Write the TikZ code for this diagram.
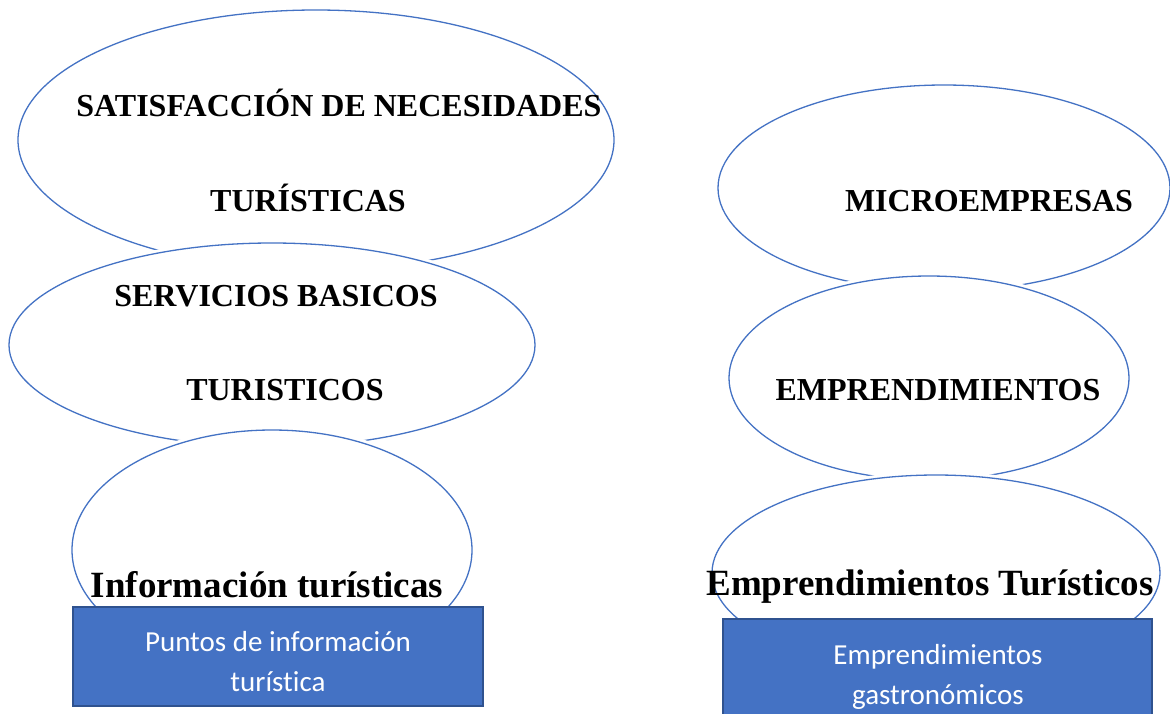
\documentclass[tikz,border=0pt]{standalone}
\usepackage{fontspec}
\setmainfont{Liberation Serif}
\newfontfamily\boxfont[Ligatures=NoCommon]{Carlito}
\usetikzlibrary{shapes.geometric}
\definecolor{accent}{HTML}{4472C4}
\definecolor{accentdark}{HTML}{2F528F}
\tikzset{
  bubble/.style={ellipse, draw=accent, line width=1.3pt, fill=white, inner sep=0pt, outer sep=0pt,
    preaction={draw=white, line width=7pt}},
  captext/.style={anchor=base, inner sep=0pt, font=\bfseries\fontsize{32}{38}\selectfont},
  bigtext/.style={anchor=base, inner sep=0pt, font=\bfseries\fontsize{37}{44}\selectfont},
  bluebox/.style={rectangle, draw=accentdark, line width=1.8pt, fill=accent, inner sep=0pt},
  boxtext/.style={inner sep=0pt, align=center, text=white, font=\boxfont\fontsize{29}{40}\selectfont}
}
\begin{document}
\begin{tikzpicture}[x=1pt,y=-1pt]
\useasboundingbox (0,0) rectangle (1170,713);
% left column
\node[bubble, minimum width=596pt, minimum height=260pt] (e1) at (316,140) {};
\node[bubble, minimum width=526pt, minimum height=204pt] (e2) at (272,345) {};
\node[bubble, minimum width=400pt, minimum height=240pt] (e3) at (272,550) {};
% right column
\node[bubble, minimum width=452pt, minimum height=206pt] (e4) at (944,188) {};
\node[bubble, minimum width=400pt, minimum height=204pt] (e5) at (929,378) {};
\node[bubble, minimum width=448pt, minimum height=196pt] (e6) at (936,573) {};
% texts
\node[captext] (t1a) at (339,116) {SATISFACCIÓN DE NECESIDADES};
\node[captext] (t1b) at (308,211) {TURÍSTICAS};
\node[captext] (t2a) at (276,306) {SERVICIOS BASICOS};
\node[captext] (t2b) at (285,400) {TURISTICOS};
\node[bigtext] (t3) at (267,597) {Información turísticas};
\node[captext] (t4) at (989,211) {MICROEMPRESAS};
\node[captext] (t5) at (938,400) {EMPRENDIMIENTOS};
\node[bigtext] (t6) at (930,595) {Emprendimientos Turísticos};
% boxes
\node[bluebox, minimum width=410pt, minimum height=99pt] (b1) at (278,656.5) {};
\node[boxtext] (bt1) at (278,662) {Puntos de información\\turística};
\node[bluebox, minimum width=429pt, minimum height=104pt] (b2) at (937.5,671) {};
\node[boxtext] (bt2) at (938,677) {Emprendimientos\\gastronómicos};
\end{tikzpicture}
\end{document}
